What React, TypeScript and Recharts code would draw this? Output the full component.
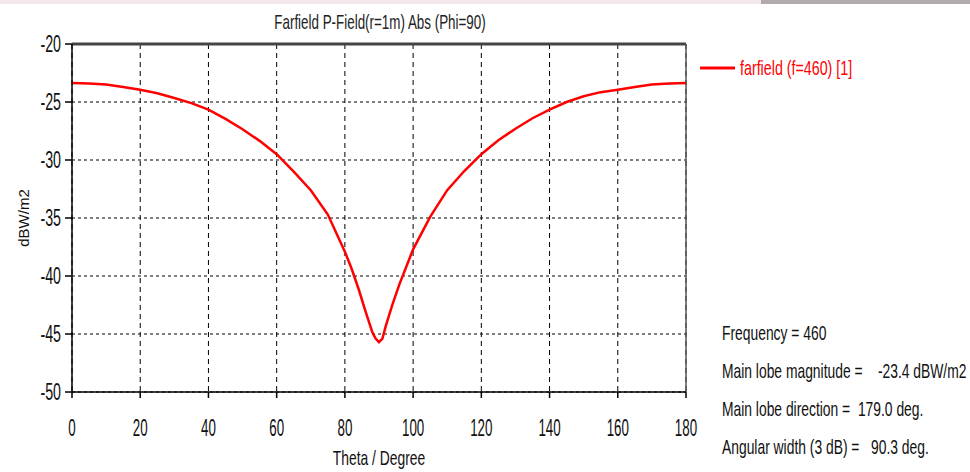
import React from 'react';
import { LineChart, Line, XAxis, YAxis, CartesianGrid, ReferenceLine } from 'recharts';

const theta = [0, 5, 10, 15, 20, 25, 30, 35, 40, 45, 50, 55, 60, 65, 70, 75, 80, 82, 84, 86, 88, 89, 90, 91, 92, 94, 96, 98, 100, 105, 110, 115, 120, 125, 130, 135, 140, 145, 150, 155, 160, 165, 170, 175, 180];
const field = [-23.36, -23.4, -23.5, -23.7, -23.94, -24.25, -24.65, -25.1, -25.66, -26.45, -27.35, -28.35, -29.5, -31.0, -32.6, -34.7, -37.9, -39.4, -41.1, -43.0, -44.8, -45.4, -45.7, -45.4, -44.3, -42.4, -40.7, -39.2, -37.7, -34.9, -32.6, -30.95, -29.5, -28.3, -27.3, -26.4, -25.66, -25.0, -24.5, -24.15, -23.94, -23.7, -23.5, -23.4, -23.36];
const xTicks = [0, 20, 40, 60, 80, 100, 120, 140, 160, 180];
const yTicks = [-50, -45, -40, -35, -30, -25, -20];
const title = 'Farfield P-Field(r=1m) Abs (Phi=90)';
const xLabel = 'Theta / Degree';
const yLabel = 'dBW/m2';
const seriesName = 'farfield (f=460) [1]';
const infoLines = [
  'Frequency = 460',
  'Main lobe magnitude =    -23.4 dBW/m2',
  'Main lobe direction =  179.0 deg.',
  'Angular width (3 dB) =   90.3 deg.',
];

const data = theta.map((t, i) => ({ theta: t, v: field[i] }));
const FONT = "'Liberation Sans', Arial, sans-serif";

const XTick = (props: any) => {
  const { x, y, payload } = props;
  return (
    <text transform={`translate(${x},${y + 36}) scale(0.58,1)`} textAnchor="middle" fontFamily={FONT} fontSize={23} fill="#111">
      {payload.value}
    </text>
  );
};

const YTick = (props: any) => {
  const { x, y, payload } = props;
  return (
    <text transform={`translate(${x - 2},${y + 8}) scale(0.62,1)`} textAnchor="end" fontFamily={FONT} fontSize={23} fill="#111">
      {payload.value}
    </text>
  );
};

const NarrowText = ({ x, y, sx, size, anchor, fill, children }: any) => (
  <text transform={`translate(${x},${y}) scale(${sx},1)`} textAnchor={anchor || 'start'} fontFamily={FONT} fontSize={size} fill={fill || '#111'} style={{ whiteSpace: 'pre' }} xmlSpace="preserve">
    {children}
  </text>
);

export default function App() {
  return (
    <div style={{ position: 'absolute', left: 0, top: 0, width: 970, height: 472, background: '#fff', overflow: 'hidden' }}>
      <div style={{ position: 'absolute', left: 0, top: 0, width: 761, height: 4, background: '#f3e7ee' }} />
      <div style={{ position: 'absolute', left: 761, top: 0, width: 209, height: 4, background: '#b2abad' }} />
      <div style={{ position: 'absolute', left: 0, top: 0 }}>
        <LineChart width={970} height={472} data={data} margin={{ top: 44, right: 284, bottom: 0, left: 0 }}>
          <CartesianGrid vertical={false} stroke="#000" strokeDasharray="3 3" />
          <CartesianGrid horizontal={false} stroke="#000" strokeDasharray="5 4" />
          <XAxis
            dataKey="theta"
            type="number"
            domain={[0, 180]}
            ticks={xTicks}
            height={80}
            stroke="#000"
            strokeWidth={1.5}
            tickSize={6}
            tick={<XTick />}
            interval={0}
          />
          <YAxis
            type="number"
            domain={[-50, -20]}
            ticks={yTicks}
            width={72}
            stroke="#000"
            strokeWidth={1.5}
            tickSize={7}
            tick={<YTick />}
            interval={0}
            allowDataOverflow
          />
          <ReferenceLine y={-20} stroke="#444" strokeWidth={3} />
          <ReferenceLine x={180} stroke="#555" strokeWidth={1.5} />
          <Line type="linear" dataKey="v" stroke="#ff0000" strokeWidth={2.5} dot={false} isAnimationActive={false} />
        </LineChart>
      </div>
      <svg width={970} height={472} style={{ position: 'absolute', left: 0, top: 0, pointerEvents: 'none' }}>
        <NarrowText x={380} y={29} sx={0.67} size={20} anchor="middle" fill="#222">{title}</NarrowText>
        <NarrowText x={379} y={465} sx={0.66} size={21} anchor="middle">{xLabel}</NarrowText>
        <text transform="translate(29,218) rotate(-90)" textAnchor="middle" fontFamily={FONT} fontSize={15} fill="#111">{yLabel}</text>
        <line x1={700} x2={735} y1={68} y2={68} stroke="#ff0000" strokeWidth={3} />
        <NarrowText x={740} y={75} sx={0.68} size={21} fill="#ff0000">{seriesName}</NarrowText>
        {infoLines.map((s, i) => (
          <NarrowText key={i} x={722} y={340 + i * 38} sx={0.66} size={21}>{s}</NarrowText>
        ))}
      </svg>
    </div>
  );
}
